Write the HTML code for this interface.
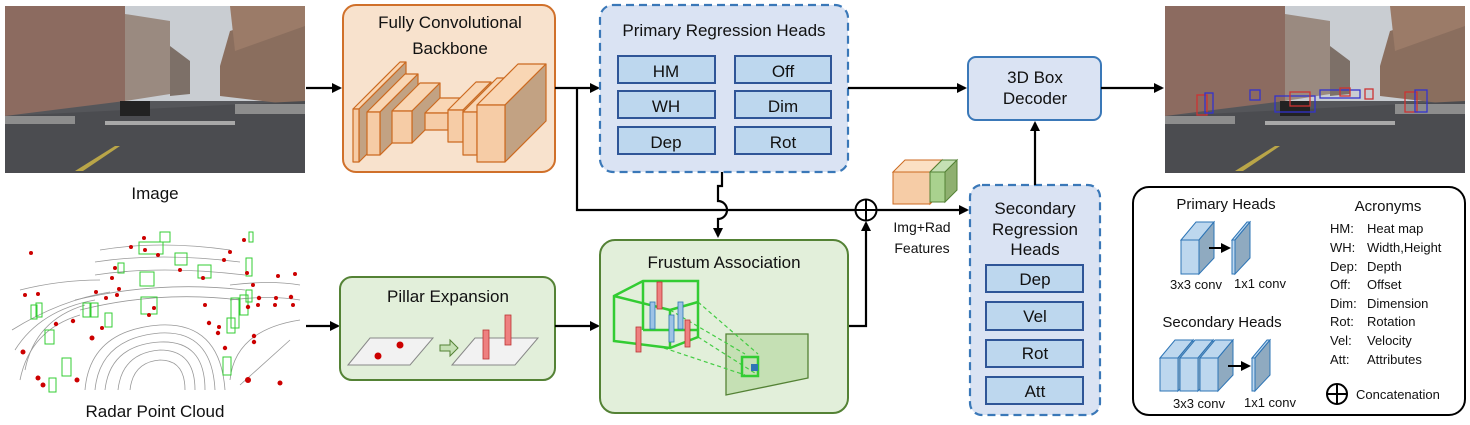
<!DOCTYPE html>
<html><head><meta charset="utf-8"><style>
html,body{margin:0;padding:0;background:#fff;width:1470px;height:425px;overflow:hidden}
svg text{font-family:"Liberation Sans",sans-serif;fill:#111}
</style></head><body>
<svg width="1470" height="425" viewBox="0 0 1470 425" xmlns="http://www.w3.org/2000/svg">
<defs>
<marker id="ar" markerWidth="10" markerHeight="10" refX="8" refY="5" orient="auto" markerUnits="userSpaceOnUse"><path d="M0,0 L10,5 L0,10 z" fill="#000"/></marker>
<g id="photo">
<rect x="0" y="0" width="300" height="167" fill="#55565a"/>
<rect x="0" y="0" width="300" height="95" fill="#c9cdd2"/>
<polygon points="0,0 120,0 120,95 0,110" fill="#8c6b60"/>
<polygon points="120,8 165,15 165,88 120,95" fill="#9a8a80"/>
<polygon points="165,40 185,55 185,88 165,90" fill="#7d7068"/>
<polygon points="215,60 225,25 300,0 300,100 215,90" fill="#8a6e5e"/>
<polygon points="225,0 300,0 300,20 230,45" fill="#9b7b68"/>
<polygon points="0,110 300,95 300,167 0,167" fill="#4b4c50"/>
<rect x="0" y="110" width="70" height="8" fill="#8d8d8d"/>
<rect x="230" y="98" width="70" height="10" fill="#8d8d8d"/>
<rect x="115" y="95" width="30" height="15" fill="#222"/>
<polygon points="70,165 110,140 115,140 78,165" fill="#b9a548"/>
<rect x="100" y="115" width="130" height="4" fill="#a8a8a8"/>
</g>
</defs>

<use href="#photo" x="5" y="6"/>
<text x="155" y="199" font-size="17" text-anchor="middle">Image</text>

<g>
<g fill="none" stroke="#999" stroke-width="0.8">
<path d="M85,390 Q90,330 160,325 Q220,322 225,390"/>
<path d="M95,390 Q100,338 160,333 Q212,330 215,390"/>
<path d="M105,390 Q110,345 160,342 Q205,340 205,390"/>
<path d="M118,390 Q122,353 160,350 Q195,350 195,390"/>
<path d="M130,390 Q133,362 160,360 Q185,360 185,390"/>
<path d="M20,380 Q30,330 80,315"/><path d="M25,370 Q35,320 85,305"/>
<path d="M15,350 Q40,310 95,300"/><path d="M12,330 Q60,300 110,292"/>
<path d="M80,310 Q160,290 240,300"/><path d="M75,300 Q160,280 245,290"/>
<path d="M230,380 Q235,330 300,320"/><path d="M240,385 L290,340"/>
<path d="M100,250 Q160,240 230,250"/><path d="M95,262 Q160,252 240,262"/>
<path d="M95,275 Q160,265 245,275"/><path d="M20,290 Q60,280 100,280"/>
<path d="M230,285 Q270,280 300,285"/><path d="M230,300 Q270,295 300,300"/>
</g>
<g fill="none" stroke="#33cc33" stroke-width="1">
<rect x="139" y="242" width="24" height="12"/><rect x="160" y="232" width="10" height="10"/>
<rect x="175" y="253" width="12" height="12"/><rect x="198" y="265" width="13" height="13"/>
<rect x="140" y="272" width="14" height="14"/><rect x="141" y="297" width="16" height="17"/>
<rect x="118" y="263" width="6" height="10"/><rect x="83" y="303" width="8" height="14"/>
<rect x="90" y="303" width="8" height="14"/><rect x="31" y="305" width="6" height="14"/>
<rect x="36" y="303" width="6" height="14"/><rect x="45" y="330" width="9" height="14"/>
<rect x="105" y="313" width="7" height="14"/><rect x="62" y="358" width="9" height="18"/>
<rect x="49" y="378" width="7" height="14"/><rect x="231" y="298" width="8" height="30"/>
<rect x="240" y="295" width="8" height="20"/><rect x="246" y="290" width="6" height="12"/>
<rect x="227" y="318" width="8" height="15"/><rect x="223" y="357" width="8" height="18"/>
<rect x="246" y="258" width="6" height="18"/><rect x="249" y="232" width="4" height="10"/>
</g>
<g fill="#c00">
<circle cx="31" cy="253" r="2"/><circle cx="25" cy="295" r="2"/><circle cx="38" cy="294" r="2"/>
<circle cx="56" cy="324" r="2.2"/><circle cx="73" cy="321" r="2.2"/><circle cx="23" cy="352" r="2.5"/>
<circle cx="38" cy="378" r="2.5"/><circle cx="43" cy="385" r="2.5"/><circle cx="77" cy="380" r="2.5"/>
<circle cx="92" cy="338" r="2.5"/><circle cx="102" cy="328" r="2"/><circle cx="106" cy="298" r="2"/>
<circle cx="117" cy="295" r="2"/><circle cx="119" cy="289" r="2"/><circle cx="112" cy="278" r="2"/>
<circle cx="96" cy="292" r="2"/><circle cx="149" cy="315" r="2"/><circle cx="154" cy="308" r="2"/>
<circle cx="145" cy="250" r="2"/><circle cx="158" cy="255" r="2"/><circle cx="180" cy="270" r="2"/>
<circle cx="203" cy="278" r="2"/><circle cx="205" cy="305" r="2"/><circle cx="209" cy="323" r="2.2"/>
<circle cx="218" cy="333" r="2.2"/><circle cx="219" cy="327" r="2"/><circle cx="225" cy="348" r="2.2"/>
<circle cx="248" cy="307" r="2.2"/><circle cx="258" cy="305" r="2"/><circle cx="259" cy="298" r="2.2"/>
<circle cx="275" cy="305" r="2"/><circle cx="276" cy="298" r="2"/><circle cx="291" cy="297" r="2.2"/>
<circle cx="293" cy="305" r="2"/><circle cx="295" cy="274" r="2"/><circle cx="278" cy="276" r="2"/>
<circle cx="253" cy="285" r="2"/><circle cx="247" cy="273" r="2"/><circle cx="254" cy="336" r="2.2"/>
<circle cx="254" cy="342" r="2.2"/><circle cx="248" cy="380" r="3"/><circle cx="280" cy="383" r="2.5"/>
<circle cx="244" cy="240" r="2"/><circle cx="230" cy="252" r="2"/><circle cx="224" cy="260" r="2"/>
<circle cx="131" cy="247" r="2"/><circle cx="144" cy="238" r="2"/><circle cx="115" cy="268" r="2"/>
</g>
<text x="155" y="417" font-size="17" text-anchor="middle">Radar Point Cloud</text>
</g>

<line x1="306" y1="88" x2="340" y2="88" stroke="#000" stroke-width="2.2" marker-end="url(#ar)"/>
<line x1="306" y1="326" x2="338" y2="326" stroke="#000" stroke-width="2.2" marker-end="url(#ar)"/>

<!-- backbone -->
<rect x="343" y="5" width="212" height="167" rx="13" fill="#f8e2cd" stroke="#d0702a" stroke-width="2"/>
<text x="450" y="28" font-size="17" text-anchor="middle">Fully Convolutional</text>
<text x="450" y="54" font-size="17" text-anchor="middle">Backbone</text>
<g stroke="#cc6a20" stroke-width="1.2" stroke-linejoin="round">
<!-- box1 x353 w6 y109 h53 d47 -->
<polygon points="353,109 400,62 406,62 359,109" fill="#f9d6b4"/>
<polygon points="359,109 406,62 406,115 359,162" fill="#c2a283"/>
<rect x="353" y="109" width="6" height="53" fill="#f6cca6"/>
<!-- box2 x367 w13 y112 h43 d38 -->
<polygon points="367,112 405,74 418,74 380,112" fill="#f9d6b4"/>
<polygon points="380,112 418,74 418,117 380,155" fill="#c2a283"/>
<rect x="367" y="112" width="13" height="43" fill="#f6cca6"/>
<!-- box3 x392 w20 y111 h32 d28 -->
<polygon points="392,111 420,83 440,83 412,111" fill="#f9d6b4"/>
<polygon points="412,111 440,83 440,115 412,143" fill="#c2a283"/>
<rect x="392" y="111" width="20" height="32" fill="#f6cca6"/>
<!-- box4 connector -->
<polygon points="425,113 440,98 463,98 448,113" fill="#f9d6b4"/>
<rect x="425" y="113" width="23" height="17" fill="#f6cca6"/>
<!-- box5 x448 w15 y110 h32 d28 -->
<polygon points="448,110 476,82 491,82 463,110" fill="#f9d6b4"/>
<polygon points="463,110 491,82 491,114 463,142" fill="#c2a283"/>
<rect x="448" y="110" width="15" height="32" fill="#f6cca6"/>
<!-- box6 x463 w14 y112 h43 d34 -->
<polygon points="463,112 497,78 511,78 477,112" fill="#f9d6b4"/>
<polygon points="477,112 511,78 511,121 477,155" fill="#c2a283"/>
<rect x="463" y="112" width="14" height="43" fill="#f6cca6"/>
<!-- box7 x477 w28 y105 h57 d41 -->
<polygon points="477,105 518,64 546,64 505,105" fill="#f9d6b4"/>
<polygon points="505,105 546,64 546,121 505,162" fill="#c2a283"/>
<rect x="477" y="105" width="28" height="57" fill="#f6cca6"/>
</g>

<line x1="555" y1="88" x2="598" y2="88" stroke="#000" stroke-width="2.2" marker-end="url(#ar)"/>
<polyline points="577,88 577,210 855,210" fill="none" stroke="#000" stroke-width="2.2"/>

<rect x="600" y="5" width="248" height="167" rx="13" fill="#dae3f3" stroke="#3a78b8" stroke-width="2.2" stroke-dasharray="8,5"/>
<text x="724" y="36" font-size="17" text-anchor="middle">Primary Regression Heads</text>
<g stroke="#2f5597" stroke-width="2" fill="#bdd7ee">
<rect x="618" y="56" width="97" height="27"/><rect x="735" y="56" width="96" height="27"/>
<rect x="618" y="91" width="97" height="27"/><rect x="735" y="91" width="96" height="27"/>
<rect x="618" y="127" width="97" height="27"/><rect x="735" y="127" width="96" height="27"/>
</g>
<g font-size="17" text-anchor="middle">
<text x="666" y="77">HM</text><text x="783" y="77">Off</text>
<text x="666" y="112">WH</text><text x="783" y="112">Dim</text>
<text x="666" y="148">Dep</text><text x="783" y="148">Rot</text>
</g>
<path d="M722,172 L722,186 L718,186 L718,201 A9,9 0 0 1 718,219 L718,236" fill="none" stroke="#000" stroke-width="2.2" marker-end="url(#ar)"/>

<line x1="848" y1="88" x2="965" y2="88" stroke="#000" stroke-width="2.2" marker-end="url(#ar)"/>
<rect x="968" y="57" width="133" height="63" rx="8" fill="#dae3f3" stroke="#3a78b8" stroke-width="2"/>
<text x="1035" y="83" font-size="17" text-anchor="middle">3D Box</text>
<text x="1035" y="104" font-size="17" text-anchor="middle">Decoder</text>
<line x1="1101" y1="88" x2="1162" y2="88" stroke="#000" stroke-width="2.2" marker-end="url(#ar)"/>

<use href="#photo" x="1165" y="6"/>
<g fill="none" stroke-width="1.3">
<rect x="1197" y="95" width="10" height="20" stroke="#c33"/><rect x="1205" y="93" width="8" height="20" stroke="#33c"/>
<rect x="1275" y="96" width="40" height="16" stroke="#33c"/><rect x="1290" y="92" width="20" height="14" stroke="#c33"/>
<rect x="1320" y="90" width="40" height="8" stroke="#33c"/><rect x="1340" y="88" width="10" height="8" stroke="#c33"/>
<rect x="1405" y="92" width="12" height="20" stroke="#c33"/><rect x="1415" y="90" width="12" height="22" stroke="#33c"/>
<rect x="1365" y="89" width="8" height="10" stroke="#c33"/><rect x="1250" y="90" width="10" height="10" stroke="#33c"/>
</g>

<g stroke-width="1">
<polygon points="893,172 905,160 942,160 930,172" fill="#fbe0c4" stroke="#cc6a20"/>
<polygon points="930,172 942,160 942,192 930,204" fill="#c2a283" stroke="#cc6a20"/>
<rect x="893" y="172" width="37" height="32" fill="#f6cca6" stroke="#cc6a20"/>
<polygon points="930,172 942,160 957,160 945,172" fill="#c5e0b4" stroke="#548235"/>
<polygon points="945,172 957,160 957,190 945,202" fill="#8fb070" stroke="#548235"/>
<rect x="930" y="172" width="15" height="30" fill="#a9d18e" stroke="#548235"/>
</g>
<text x="922" y="232" font-size="14" text-anchor="middle">Img+Rad</text>
<text x="922" y="253" font-size="14" text-anchor="middle">Features</text>

<circle cx="866" cy="210" r="10.5" fill="#fff" stroke="#000" stroke-width="2"/>
<line x1="855.5" y1="210" x2="876.5" y2="210" stroke="#000" stroke-width="2"/>
<line x1="866" y1="199.5" x2="866" y2="220.5" stroke="#000" stroke-width="2"/>
<line x1="877" y1="210" x2="967" y2="210" stroke="#000" stroke-width="2.2" marker-end="url(#ar)"/>
<polyline points="848,326 866,326 866,223" fill="none" stroke="#000" stroke-width="2.2" marker-end="url(#ar)"/>

<rect x="970" y="185" width="130" height="230" rx="12" fill="#dae3f3" stroke="#3a78b8" stroke-width="2.2" stroke-dasharray="8,5"/>
<text x="1035" y="214" font-size="17" text-anchor="middle">Secondary</text>
<text x="1035" y="235" font-size="17" text-anchor="middle">Regression</text>
<text x="1035" y="255" font-size="17" text-anchor="middle">Heads</text>
<g stroke="#2f5597" stroke-width="2" fill="#bdd7ee">
<rect x="986" y="265" width="97" height="27"/><rect x="986" y="302" width="97" height="28"/>
<rect x="986" y="340" width="97" height="27"/><rect x="986" y="377" width="97" height="27"/>
</g>
<g font-size="17" text-anchor="middle">
<text x="1035" y="285">Dep</text><text x="1035" y="322">Vel</text>
<text x="1035" y="359">Rot</text><text x="1035" y="397">Att</text>
</g>
<line x1="1035" y1="185" x2="1035" y2="123" stroke="#000" stroke-width="2.2" marker-end="url(#ar)"/>

<rect x="340" y="277" width="215" height="103" rx="12" fill="#e2efda" stroke="#548235" stroke-width="2"/>
<text x="448" y="302" font-size="17" text-anchor="middle">Pillar Expansion</text>
<polygon points="348,365 370,338 433,338 410,365" fill="#f2f2f2" stroke="#888" stroke-width="1"/>
<circle cx="378" cy="356" r="3.5" fill="#c00"/><circle cx="400" cy="345" r="3.5" fill="#c00"/>
<polygon points="440,345 450,345 450,340 458,348 450,356 450,351 440,351" fill="#c5e0b4" stroke="#548235" stroke-width="1"/>
<polygon points="452,365 475,338 538,338 515,365" fill="#f2f2f2" stroke="#888" stroke-width="1"/>
<rect x="483" y="330" width="6" height="29" fill="#ee8080" stroke="#b33" stroke-width="0.8"/>
<rect x="505" y="315" width="6" height="30" fill="#ee8080" stroke="#b33" stroke-width="0.8"/>
<line x1="555" y1="326" x2="598" y2="326" stroke="#000" stroke-width="2.2" marker-end="url(#ar)"/>

<rect x="600" y="240" width="248" height="173" rx="15" fill="#e2efda" stroke="#548235" stroke-width="2"/>
<text x="724" y="268" font-size="17" text-anchor="middle">Frustum Association</text>
<polygon points="726,334 808,334 808,378 726,395" fill="#c5e0b4" stroke="#548235" stroke-width="1.3"/>
<g stroke="#44cc44" stroke-width="1.2" stroke-dasharray="4,3" fill="none">
<line x1="698" y1="302" x2="758" y2="354"/><line x1="698" y1="337" x2="758" y2="375"/>
<line x1="664" y1="348" x2="745" y2="375"/><line x1="670" y1="310" x2="745" y2="354"/>
</g>
<g stroke="#33cc33" stroke-width="2.5" fill="none">
<rect x="742" y="357" width="16" height="19"/>
<polygon points="614,296 643,281 698,281 698,302 698,337 670,348 614,341"/>
<line x1="614" y1="296" x2="670" y2="310"/><line x1="670" y1="310" x2="698" y2="302"/>
<line x1="670" y1="310" x2="670" y2="348"/><line x1="643" y1="281" x2="643" y2="330"/>
<line x1="643" y1="330" x2="698" y2="330"/>
</g>
<rect x="751" y="364" width="7" height="7" fill="#2e75b6"/>
<g stroke-width="0.8">
<rect x="650" y="302" width="5" height="27" fill="#9dc3e6" stroke="#2e75b6"/>
<rect x="669" y="315" width="5" height="27" fill="#9dc3e6" stroke="#2e75b6"/>
<rect x="678" y="302" width="5" height="27" fill="#9dc3e6" stroke="#2e75b6"/>
<rect x="657" y="282" width="5" height="27" fill="#ee8080" stroke="#b33"/>
<rect x="636" y="327" width="5" height="25" fill="#ee8080" stroke="#b33"/>
<rect x="685" y="320" width="5" height="27" fill="#ee8080" stroke="#b33"/>
</g>

<rect x="1133" y="187" width="332" height="228" rx="16" fill="#fff" stroke="#000" stroke-width="2"/>
<text x="1226" y="209" font-size="15" text-anchor="middle">Primary Heads</text>
<g stroke="#2e75b6" stroke-width="1">
<polygon points="1181,240 1196,222 1214,222 1199,240" fill="#bdd7ee"/>
<polygon points="1199,240 1214,222 1214,258 1199,274" fill="#8faac0"/>
<rect x="1181" y="240" width="18" height="34" fill="#bdd7ee"/>
<polygon points="1232,240 1247,222 1250,222 1235,240" fill="#bdd7ee"/>
<polygon points="1235,240 1250,222 1250,258 1235,274" fill="#8faac0"/>
<rect x="1232" y="240" width="3" height="34" fill="#bdd7ee"/>
</g>
<line x1="1209" y1="248" x2="1229" y2="248" stroke="#000" stroke-width="2" marker-end="url(#ar)"/>
<text x="1196" y="289" font-size="13" text-anchor="middle">3x3 conv</text>
<text x="1260" y="288" font-size="13" text-anchor="middle">1x1 conv</text>
<text x="1222" y="327" font-size="15" text-anchor="middle">Secondary Heads</text>
<g stroke="#2e75b6" stroke-width="1">
<polygon points="1160,358 1175,340 1193,340 1178,358" fill="#bdd7ee"/>
<polygon points="1178,358 1193,340 1193,375 1178,391" fill="#8faac0"/>
<rect x="1160" y="358" width="18" height="33" fill="#bdd7ee"/>
<polygon points="1180,358 1195,340 1213,340 1198,358" fill="#bdd7ee"/>
<polygon points="1198,358 1213,340 1213,375 1198,391" fill="#8faac0"/>
<rect x="1180" y="358" width="18" height="33" fill="#bdd7ee"/>
<polygon points="1200,358 1215,340 1233,340 1218,358" fill="#bdd7ee"/>
<polygon points="1218,358 1233,340 1233,375 1218,391" fill="#8faac0"/>
<rect x="1200" y="358" width="18" height="33" fill="#bdd7ee"/>
<polygon points="1252,358 1267,340 1270,340 1255,358" fill="#bdd7ee"/>
<polygon points="1255,358 1270,340 1270,375 1255,391" fill="#8faac0"/>
<rect x="1252" y="358" width="3" height="33" fill="#bdd7ee"/>
</g>
<line x1="1228" y1="366" x2="1249" y2="366" stroke="#000" stroke-width="2" marker-end="url(#ar)"/>
<text x="1199" y="408" font-size="13" text-anchor="middle">3x3 conv</text>
<text x="1270" y="407" font-size="13" text-anchor="middle">1x1 conv</text>
<text x="1388" y="211" font-size="15" text-anchor="middle">Acronyms</text>
<g font-size="13">
<text x="1330" y="233">HM:</text><text x="1367" y="233">Heat map</text>
<text x="1330" y="252">WH:</text><text x="1367" y="252">Width,Height</text>
<text x="1330" y="271">Dep:</text><text x="1367" y="271">Depth</text>
<text x="1330" y="289">Off:</text><text x="1367" y="289">Offset</text>
<text x="1330" y="308">Dim:</text><text x="1367" y="308">Dimension</text>
<text x="1330" y="326">Rot:</text><text x="1367" y="326">Rotation</text>
<text x="1330" y="345">Vel:</text><text x="1367" y="345">Velocity</text>
<text x="1330" y="364">Att:</text><text x="1367" y="364">Attributes</text>
<text x="1356" y="399">Concatenation</text>
</g>
<circle cx="1337" cy="394" r="10" fill="#fff" stroke="#000" stroke-width="2"/>
<line x1="1327" y1="394" x2="1347" y2="394" stroke="#000" stroke-width="2"/>
<line x1="1337" y1="384" x2="1337" y2="404" stroke="#000" stroke-width="2"/>
</svg>
</body></html>
